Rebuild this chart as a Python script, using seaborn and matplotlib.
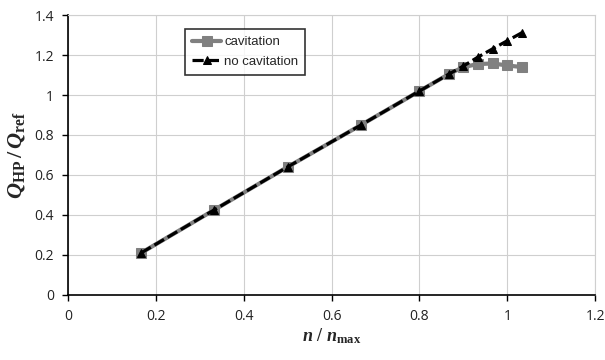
import matplotlib
matplotlib.use("Agg")
import matplotlib.pyplot as plt
import seaborn as sns
import pandas as pd

n_ratio = [0.167, 0.333, 0.5, 0.667, 0.8, 0.867, 0.9, 0.933, 0.967, 1.0, 1.033]
q_cav = [0.21, 0.425, 0.64, 0.85, 1.02, 1.105, 1.14, 1.155, 1.158, 1.148, 1.14]
q_nocav = [0.21, 0.425, 0.64, 0.85, 1.02, 1.105, 1.145, 1.19, 1.232, 1.272, 1.312]
x_ticks = [0, 0.2, 0.4, 0.6, 0.8, 1, 1.2]
x_tick_labels = ["0", "0.2", "0.4", "0.6", "0.8", "1", "1.2"]
y_ticks = [0, 0.2, 0.4, 0.6, 0.8, 1, 1.2, 1.4]
y_tick_labels = ["0", "0.2", "0.4", "0.6", "0.8", "1", "1.2", "1.4"]

sns.set_theme(style="white")
plt.rcParams['font.family'] = ['Open Sans', 'DejaVu Sans']
plt.rcParams['mathtext.fontset'] = 'custom'
plt.rcParams['mathtext.it'] = 'Liberation Serif:italic:bold'
plt.rcParams['mathtext.rm'] = 'Liberation Serif:bold'
plt.rcParams['mathtext.bf'] = 'Liberation Serif:bold'

df_cav = pd.DataFrame({"n": n_ratio, "q": q_cav})
df_nc = pd.DataFrame({"n": n_ratio, "q": q_nocav})

fig = plt.figure(figsize=(6.05, 3.6), dpi=100)
ax = fig.add_axes([0.112, 0.181, 0.872, 0.777])

sns.lineplot(data=df_cav, x="n", y="q", ax=ax, color="#808080", linewidth=3,
             marker="s", markersize=7, markeredgecolor="#808080", sort=False,
             label="cavitation")
sns.lineplot(data=df_nc, x="n", y="q", ax=ax, color="black", linewidth=2.3,
             marker="^", markersize=6, markeredgecolor="black", sort=False,
             label="no cavitation", dashes=False)
ax.lines[1].set_linestyle((0, (3.5, 1.3)))

ax.set_xlim(0, 1.2)
ax.set_ylim(0, 1.4)
ax.set_xticks(x_ticks)
ax.set_xticklabels(x_tick_labels, fontsize=10, color="#222222")
ax.set_yticks(y_ticks)
ax.set_yticklabels(y_tick_labels, fontsize=10, color="#222222")
ax.grid(True, color="#cfcfcf", linewidth=0.8)
ax.set_axisbelow(True)
for s in ["top", "right"]:
    ax.spines[s].set_color("#cfcfcf")
    ax.spines[s].set_linewidth(0.8)
for s in ["left", "bottom"]:
    ax.spines[s].set_color("black")
    ax.spines[s].set_linewidth(1.2)
ax.tick_params(axis="both", which="both", direction="out", length=4, width=1,
               color="black", bottom=True, left=True, pad=6)

ax.set_xlabel(r"$n\ /\ n_\mathrm{max}$", fontsize=13, labelpad=2)
ax.set_ylabel(r"$Q_\mathrm{HP}\,/\,Q_\mathrm{ref}$", fontsize=16, labelpad=5)

leg = ax.legend(loc="upper left", bbox_to_anchor=(0.21, 0.975), frameon=True,
                fancybox=False, edgecolor="black",
                prop={"family": "Liberation Sans", "size": 9.5},
                handlelength=2.2, handletextpad=0.2, borderpad=0.55,
                labelspacing=0.55)
leg.get_frame().set_linewidth(1.2)

fig.savefig("out.png", dpi=100)
